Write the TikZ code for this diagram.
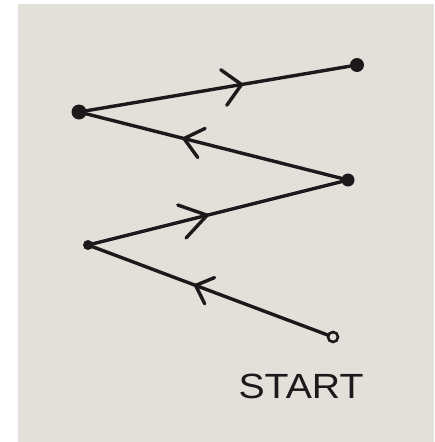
\documentclass[tikz,border=0pt]{standalone}
\usepackage{fontspec}
\setsansfont{Liberation Sans}
\usetikzlibrary{decorations.markings}
\definecolor{paper}{RGB}{226,224,217}
\definecolor{ink}{RGB}{30,24,26}
\tikzset{
  pen/.style={draw=ink, line width=3.4pt, line cap=round, line join=round},
  dotnode/.style={circle, fill=ink, inner sep=0pt, minimum size=#1},
  opendot/.style={circle, draw=ink, line width=2.6pt, fill=paper, inner sep=0pt, minimum size=10pt},
  chev/.style n args={3}{postaction={decorate, decoration={markings,
      mark=at position #1 with {\draw[pen] (-#2pt,#3pt) -- (0pt,0pt) -- (-#2pt,-#3pt);}}}},
}
\begin{document}
\begin{tikzpicture}[x=1pt, y=-1pt]
  \useasboundingbox (0,0) rectangle (434,442);
  \fill[white] (0,0) rectangle (434,442);
  \fill[paper] (18,4) rectangle (434,442);
  \node[dotnode=14pt] (tr) at (357,65) {};
  \node[dotnode=15pt] (tl) at (79,112) {};
  \node[dotnode=13pt] (mr) at (348,180) {};
  \node[dotnode=10pt] (bl) at (88,245) {};
  \node[opendot] (st) at (333,337) {};
  \draw[pen, chev={0.6}{18}{18}] (tl.center) -- (tr);
  \draw[pen, chev={0.6}{18}{15}] (mr) -- (tl.center);
  \draw[pen, chev={0.47}{26}{17}] (bl.center) -- (mr);
  \draw[pen, chev={0.55}{15}{14}] (st) -- (bl.center);
  \node[font=\sffamily\fontsize{35}{35}\selectfont, text=ink, xscale=1.12, inner sep=0pt] (lbl) at (301,386) {START};
\end{tikzpicture}
\end{document}
